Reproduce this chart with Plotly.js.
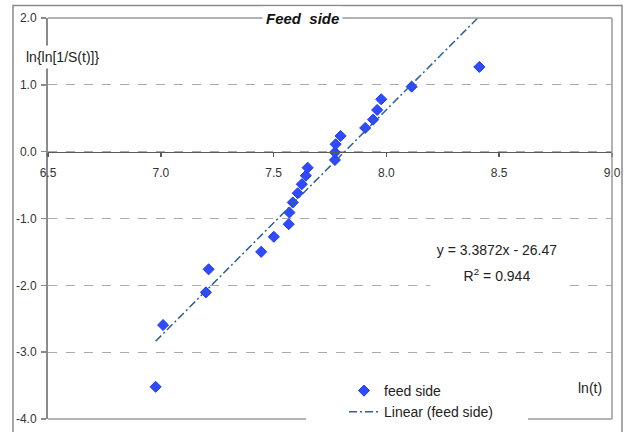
<!DOCTYPE html>
<html>
<head>
<meta charset="utf-8">
<script src="https://cdn.plot.ly/plotly-3.0.1.min.js"></script>
<style>html,body{margin:0;padding:0;background:#fff;}#chart{width:627px;height:432px;}</style>
</head>
<body>
<div id="chart"></div>
<script>
// Data
const lnT = [6.977, 7.010, 7.200, 7.212, 7.445, 7.501, 7.567, 7.570, 7.585, 7.607, 7.625, 7.643, 7.651,
             7.772, 7.772, 7.775, 7.797, 7.906, 7.941, 7.959, 7.977, 8.112, 8.412];
const lnLnS = [-3.518, -2.594, -2.105, -1.760, -1.499, -1.274, -1.085, -0.910, -0.760, -0.621, -0.487, -0.359, -0.240,
               -0.124, -0.009, 0.111, 0.235, 0.355, 0.479, 0.624, 0.784, 0.973, 1.268];
const trendSlope = 3.3872;
const trendIntercept = -26.47;
const r2 = 0.944;
const xTickVals = [6.5, 7.0, 7.5, 8.0, 8.5, 9.0];
const xTickText = ["6.5", "7.0", "7.5", "8.0", "8.5", "9.0"];
const yTickVals = [2, 1, 0, -1, -2, -3, -4];
const yTickText = ["2.0", "1.0", "0.0", "-1.0", "-2.0", "-3.0", "-4.0"];

const trendX = [Math.min(...lnT), Math.max(...lnT)];
const trendY = trendX.map(v => trendSlope * v + trendIntercept);

const FONT = "Liberation Sans, Arial, sans-serif";
const frameColor = "#9a9a9a";

const traces = [
  {
    x: lnT, y: lnLnS, type: "scatter", mode: "markers", name: "feed side",
    marker: {symbol: "diamond", size: 8.5, color: "#2f4bff", line: {color: "#1e38f0", width: 1}}
  },
  {
    x: trendX, y: trendY, type: "scatter", mode: "lines", name: "Linear (feed side)",
    line: {color: "#2f6090", width: 1.5, dash: "8px,3px,2px,3px"}
  }
];

function px(p) { return (p - 48) / 564; }
function py(p) { return (419 - p) / 401; }

const layout = {
  width: 627, height: 432,
  margin: {l: 48, r: 15, t: 18, b: 13, pad: 0, autoexpand: false},
  paper_bgcolor: "#fff", plot_bgcolor: "#fff",
  font: {family: FONT, size: 12, color: "#333"},
  showlegend: true,
  legend: {
    x: px(344), y: py(375), xanchor: "left", yanchor: "top",
    bgcolor: "#fff", borderwidth: 0,
    font: {family: FONT, size: 14, color: "#222"},
    tracegroupgap: 0
  },
  xaxis: {
    range: [6.5, 9.0], tickvals: xTickVals, ticktext: xTickText,
    anchor: "free", position: 4 / 6,
    showline: true, linecolor: "#5a5a5a", linewidth: 1.5,
    ticks: "outside", ticklen: 4, tickcolor: "#5a5a5a", tickwidth: 1.5,
    ticklabelstandoff: 5,
    showgrid: false, zeroline: false, automargin: false,
    tickfont: {family: FONT, size: 12, color: "#333"}
  },
  yaxis: {
    range: [-4, 2], tickvals: yTickVals, ticktext: yTickText,
    showline: true, linecolor: "#8a8a8a", linewidth: 2,
    ticks: "outside", ticklen: 5, tickcolor: "#8a8a8a", tickwidth: 1.5,
    ticklabelstandoff: 2,
    showgrid: true, gridcolor: "#aaaaaa", griddash: "dash", gridwidth: 1,
    zeroline: false, automargin: false,
    tickfont: {family: FONT, size: 12, color: "#333"}
  },
  shapes: [
    // plot area frame
    {type: "line", xref: "paper", yref: "paper", x0: 0, x1: 1, y0: 1, y1: 1, line: {color: frameColor, width: 1.5}, layer: "above"},
    {type: "line", xref: "paper", yref: "paper", x0: 1, x1: 1, y0: 0, y1: 1, line: {color: frameColor, width: 1.5}, layer: "above"},
    {type: "line", xref: "paper", yref: "paper", x0: 0, x1: px(306), y0: 0, y1: 0, line: {color: frameColor, width: 1.5}, layer: "above"},
    {type: "line", xref: "paper", yref: "paper", x0: px(528), x1: 1, y0: 0, y1: 0, line: {color: frameColor, width: 1.5}, layer: "above"},
    // outer chart border
    {type: "path", xref: "paper", yref: "paper",
     path: "M " + px(13) + "," + py(440) + " L " + px(13) + "," + py(5.5) + " L " + px(622) + "," + py(5.5) + " L " + px(622) + "," + py(440),
     line: {color: "#8a8a8a", width: 1.5}, layer: "above"}
  ],
  annotations: [
    {text: "<b><i>Feed  side</i></b>", xref: "paper", yref: "paper", x: px(302), y: py(19),
     xanchor: "center", yanchor: "middle", showarrow: false, bgcolor: "#fff", borderpad: 3,
     font: {family: FONT, size: 15, color: "#111"}},
    {text: "ln{ln[1/S(t)]}", xref: "paper", yref: "paper", x: px(62), y: py(57),
     xanchor: "center", yanchor: "middle", showarrow: false, bgcolor: "#fff", borderpad: 3,
     font: {family: FONT, size: 14, color: "#222"}},
    {text: "ln(t)", xref: "paper", yref: "paper", x: px(590), y: py(388),
     xanchor: "center", yanchor: "middle", showarrow: false,
     font: {family: FONT, size: 14, color: "#222"}},
    {text: "y = " + trendSlope.toFixed(4) + "x - " + Math.abs(trendIntercept).toFixed(2), xref: "paper", yref: "paper",
     x: px(497), y: py(250), xanchor: "center", yanchor: "middle", showarrow: false,
     bgcolor: "#fff", width: 130, height: 24,
     font: {family: FONT, size: 14, color: "#222"}},
    {text: "R<sup>2</sup> = " + r2.toFixed(3), xref: "paper", yref: "paper",
     x: px(497), y: py(275), xanchor: "center", yanchor: "middle", showarrow: false,
     bgcolor: "#fff", width: 130, height: 26,
     font: {family: FONT, size: 14, color: "#222"}}
  ]
};

Plotly.newPlot("chart", traces, layout, {displayModeBar: false, staticPlot: true});
</script>
</body>
</html>
